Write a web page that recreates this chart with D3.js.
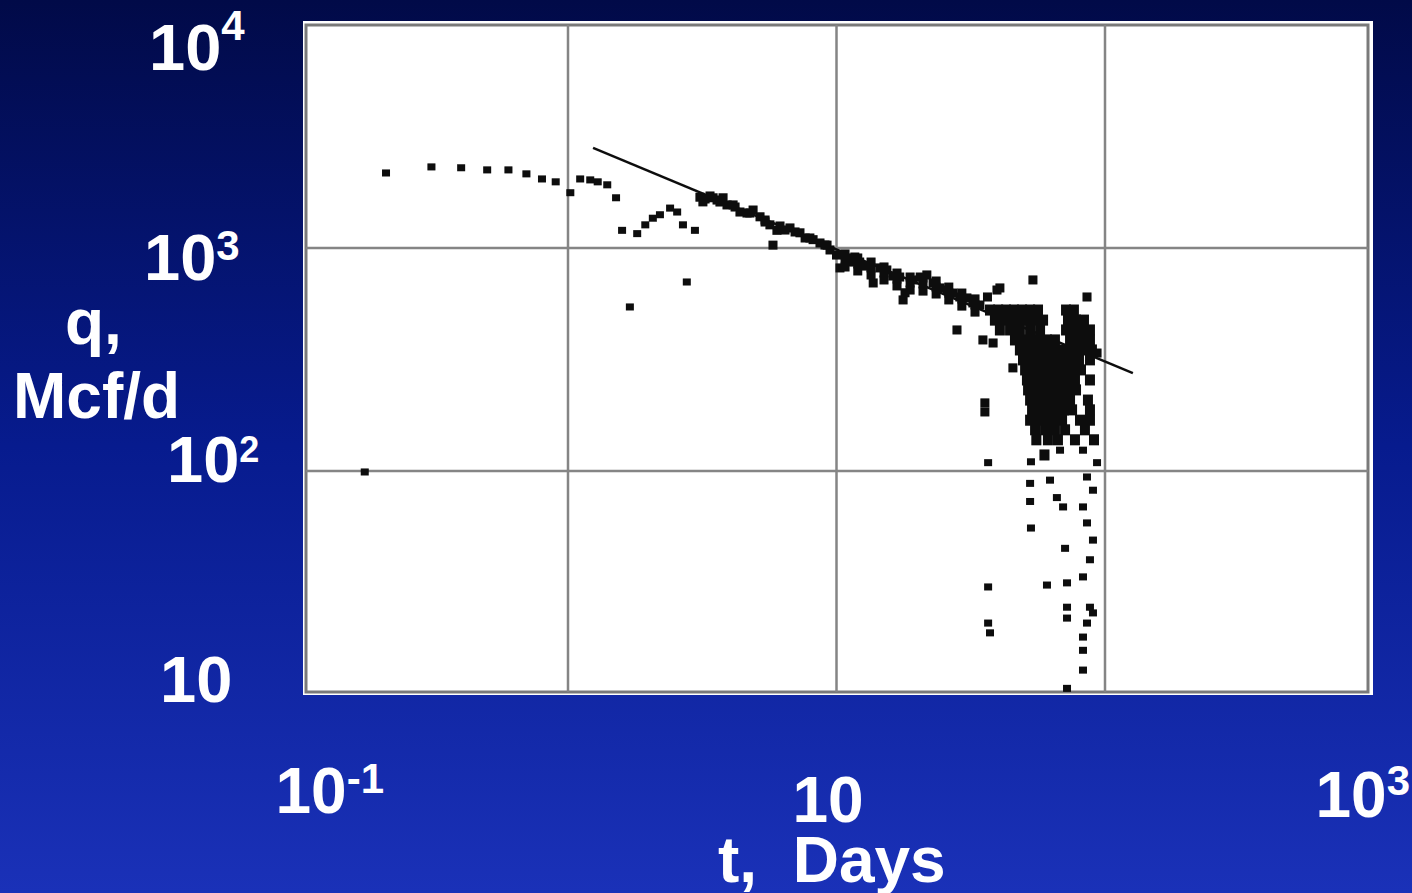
<!DOCTYPE html>
<html>
<head>
<meta charset="utf-8">
<script src="https://cdn.jsdelivr.net/npm/d3@7.9.0/dist/d3.min.js"></script>
<style>
  html, body { margin: 0; padding: 0; overflow: hidden; }
  svg { display: block; }
  text { font-family: "Liberation Sans", Arial, sans-serif; font-weight: bold; fill: #fff; white-space: pre; }
</style>
</head>
<body>
<svg width="1412" height="893"></svg>
<script>
// tick values and labels (log-log axes)
const xTicks = [0.1, 10, 1000];
const xTickLabels = [['10', '-1'], ['10', ''], ['10', '3']];
const yTicks = [1e4, 1e3, 1e2, 10];
const yTickLabels = [['10', '4'], ['10', '3'], ['10', '2'], ['10', '']];
const xGrid = [1, 10, 100];
const yGrid = [1000, 100];

// straight-line fit drawn over the data [t days, q Mcf/d]
const fitLine = [[1.24, 2810], [127, 275]];

// early-time points [t days, q Mcf/d]
const earlyPoints = [
  [0.21, 2170], [0.31, 2310], [0.40, 2290], [0.50, 2240], [0.60, 2240], [0.70, 2150],
  [0.80, 2040], [0.90, 1980], [1.02, 1770], [1.11, 2040], [1.21, 2020], [1.29, 1980],
  [1.40, 1920], [1.51, 1680], [1.59, 1200], [1.81, 1160], [1.94, 1270], [2.07, 1360],
  [2.20, 1410], [2.40, 1510], [2.55, 1450], [2.68, 1270], [2.97, 1200], [2.77, 704],
  [1.70, 544], [0.175, 99]
];

// main decline band [t days, q Mcf/d]
const bandPoints = [
  [3.10, 1690], [3.18, 1610], [3.24, 1659], [3.38, 1711], [3.47, 1680], [3.59, 1641],
  [3.68, 1608], [3.78, 1680], [3.91, 1560], [4.12, 1560], [4.19, 1527], [4.37, 1450],
  [4.64, 1435], [4.76, 1435], [4.89, 1480], [5.19, 1380], [5.42, 1308], [5.42, 1335],
  [5.65, 1270], [5.80, 1030], [6.0, 1200], [6.16, 1255], [6.43, 1204], [6.71, 1230],
  [7.01, 1180], [7.31, 1170], [7.64, 1109], [7.96, 1109], [8.18, 1090], [8.68, 1053],
  [9.06, 1031], [9.22, 1030], [9.46, 980], [10.0, 930], [10.3, 814], [10.9, 900],
  [10.76, 940], [10.76, 884], [10.76, 822], [11.2, 865], [11.7, 911],
  [12.0, 902], [12.0, 848], [12.0, 789], [12.2, 865], [12.9, 830],
  [13.45, 865], [13.45, 814], [13.45, 757], [13.7, 697], [14.5, 814],
  [15.03, 822], [15.03, 772], [15.03, 719], [15.4, 797], [16.2, 749],
  [16.8, 772], [16.8, 726], [16.8, 676], [17.2, 741], [17.7, 585], [18.0, 630],
  [18.8, 741], [18.8, 697], [18.8, 648], [19.3, 719], [20.5, 741],
  [21.0, 734], [21.0, 690], [21.0, 641], [21.7, 757], [22.9, 697],
  [23.5, 711], [23.5, 668], [23.5, 622], [24.3, 662], [25.8, 648],
  [26.2, 668], [26.2, 628], [26.2, 585], [27.2, 628], [28.1, 429], [28.8, 603],
  [29.3, 628], [29.3, 591], [29.3, 549], [30.6, 597], [32.2, 567],
  [32.8, 591], [32.8, 555], [32.8, 516], [34.2, 555], [36.5, 603], [35.1, 387],
  [38.3, 375], [39.6, 648], [40.6, 662], [53.9, 719], [85.7, 603], [35.7, 202],
  [35.7, 184], [45.4, 290], [93.4, 338]
];

// dense late-time cluster, read row by row [t days, q Mcf/d]
const clusterPoints = [
  [37.3, 527], [40.0, 527], [42.8, 527], [45.8, 527], [49.1, 527], [52.6, 527], [56.3, 527], [71.6, 527], [76.6, 527],
  [38.9, 475], [41.7, 475], [44.7, 475], [47.8, 475], [51.2, 475], [54.9, 475], [58.8, 475], [72.8, 475], [78.0, 475], [83.5, 475],
  [40.6, 429], [44.3, 429], [48.2, 429], [52.6, 429], [57.3, 429], [71.6, 429], [76.6, 429], [82.1, 429], [87.9, 429],
  [46.2, 387], [49.5, 387], [53.0, 387], [56.8, 387], [60.8, 387], [65.1, 387], [74.1, 387], [80.7, 387], [87.9, 387],
  [48.2, 349], [51.7, 349], [55.3, 349], [59.3, 349], [63.5, 349], [68.0, 349], [72.8, 349], [78.0, 349], [83.5, 349], [89.4, 349],
  [49.5, 315], [53.0, 315], [56.8, 315], [60.8, 315], [65.1, 315], [69.8, 315], [74.7, 315], [80.0, 315], [87.9, 315],
  [50.4, 284], [53.9, 284], [57.8, 284], [61.9, 284], [66.2, 284], [71.0, 284], [76.0, 284], [81.4, 284],
  [51.2, 256], [54.9, 256], [58.8, 256], [62.9, 256], [67.4, 256], [72.2, 256], [77.3, 256], [87.9, 256],
  [51.7, 231], [55.3, 231], [59.3, 231], [63.5, 231], [68.0, 231], [72.8, 231], [78.0, 231],
  [52.6, 208], [56.3, 208], [60.3, 208], [64.6, 208], [69.2, 208], [74.1, 208], [86.4, 208],
  [53.5, 188], [57.3, 188], [61.3, 188], [65.7, 188], [70.4, 188], [75.4, 188], [87.9, 188],
  [52.6, 169], [56.3, 169], [60.3, 169], [64.6, 169], [69.2, 169], [80.7, 169], [87.9, 169],
  [54.9, 153], [59.8, 153], [65.1, 153], [71.0, 153], [84.2, 153],
  [61.3, 138], [66.8, 138], [77.3, 138], [91.0, 138], [55.5, 138], [59.5, 118]
];

// scattered low-rate points [t days, q Mcf/d]
const lowPoints = [
  [36.7, 109], [53.0, 110], [52.6, 88], [52.6, 73], [53.0, 55.5], [62.4, 91],
  [66.2, 76], [69.8, 69], [68.0, 124], [82.8, 124], [93.4, 109], [85.7, 94],
  [90.2, 82], [82.8, 69], [85.7, 58.5], [90.2, 49], [71.0, 45], [87.9, 40],
  [82.8, 33.5], [72.2, 31.5], [60.8, 30.8], [36.7, 30.2], [72.2, 24.5], [72.2, 21.9],
  [87.9, 24.5], [90.2, 23.1], [85.7, 20.8], [36.7, 20.8], [37.3, 18.8], [82.8, 18.0],
  [82.8, 15.7], [82.8, 12.8], [72.2, 10.6]
];

const svg = d3.select('svg');
const defs = svg.append('defs');

// slide background
const grad = defs.append('linearGradient')
  .attr('id', 'bg').attr('x1', 0).attr('y1', 0).attr('x2', 0).attr('y2', 1);
grad.append('stop').attr('offset', '0%').attr('stop-color', '#010a48');
grad.append('stop').attr('offset', '50%').attr('stop-color', '#071b8e');
grad.append('stop').attr('offset', '100%').attr('stop-color', '#1a31b8');
svg.append('rect').attr('width', 1412).attr('height', 893).attr('fill', 'url(#bg)');

// a little softening, the original is a scanned plot
defs.append('filter').attr('id', 'soft')
  .append('feGaussianBlur').attr('stdDeviation', 0.7);

const x = d3.scaleLog().domain([0.1, 1000]).range([299.5, 1373.5]);
const y = d3.scaleLog().domain([10, 1e4]).range([694, 25]);

// white plot panel and frame
svg.append('rect')
  .attr('x', 303).attr('y', 21).attr('width', 1070).attr('height', 674)
  .attr('fill', '#fff');

const plot = svg.append('g').attr('filter', 'url(#soft)');
plot.append('rect')
  .attr('x', 306).attr('y', 25).attr('width', 1062).attr('height', 667)
  .attr('fill', 'none').attr('stroke', '#7a7a7a').attr('stroke-width', 3);

// grid
plot.selectAll('.vgrid').data(xGrid).join('line')
  .attr('x1', d => x(d)).attr('x2', d => x(d))
  .attr('y1', 25).attr('y2', 692)
  .attr('stroke', '#858585').attr('stroke-width', 2.5);
plot.selectAll('.hgrid').data(yGrid).join('line')
  .attr('x1', 306).attr('x2', 1368)
  .attr('y1', d => y(d)).attr('y2', d => y(d))
  .attr('stroke', '#858585').attr('stroke-width', 2.5);

// fit line
plot.append('path')
  .attr('d', d3.line().x(d => x(d[0])).y(d => y(d[1]))(fitLine))
  .attr('stroke', '#111').attr('stroke-width', 2.5).attr('fill', 'none');

// data points: scattered ones as small squares, the cluster a bit larger so it reads as a solid mass
function drawPoints(data, w, h) {
  plot.append('g').selectAll('rect').data(data).join('rect')
    .attr('x', d => x(d[0]) - w / 2).attr('y', d => y(d[1]) - h / 2)
    .attr('width', w).attr('height', h)
    .attr('fill', '#0a0a0a');
}
drawPoints(earlyPoints, 8, 7);
drawPoints(bandPoints, 9, 9);
drawPoints(clusterPoints, 10, 11);
drawPoints(lowPoints, 8, 7);

// tick labels (slide text, placed by hand around each decade)
const yLabelPos = [
  { x: 149, dy: 45, supDy: -30, supSize: 42 },
  { x: 144, dy: 32, supDy: -20, supSize: 42 },
  { x: 167, dy: 11, supDy: -20, supSize: 36 },
  { x: 160, dy: 8, supDy: 0, supSize: 42 }
];
yTicks.forEach((v, i) => {
  const p = yLabelPos[i];
  const t = svg.append('text').attr('x', p.x).attr('y', y(v) + p.dy).attr('font-size', 65);
  t.append('tspan').text(yTickLabels[i][0]);
  if (yTickLabels[i][1]) {
    t.append('tspan').attr('dy', p.supDy).attr('font-size', p.supSize).text(yTickLabels[i][1]);
  }
});

const xLabelPos = [
  { dx: -24, y: 813, supDy: -20, supSize: 42 },
  { dx: -44, y: 822, supDy: 0, supSize: 42 },
  { dx: -58, y: 817, supDy: -22, supSize: 42 }
];
xTicks.forEach((v, i) => {
  const p = xLabelPos[i];
  const t = svg.append('text').attr('x', x(v) + p.dx).attr('y', p.y).attr('font-size', 64);
  t.append('tspan').text(xTickLabels[i][0]);
  if (xTickLabels[i][1]) {
    t.append('tspan').attr('dy', p.supDy).attr('font-size', p.supSize).text(xTickLabels[i][1]);
  }
});

// axis titles
svg.append('text').attr('x', 65).attr('y', 344).attr('font-size', 64).text('q,');
svg.append('text').attr('x', 13).attr('y', 418).attr('font-size', 64).text('Mcf/d');
svg.append('text').attr('x', 718).attr('y', 882).attr('font-size', 64).text('t,  Days');
</script>
</body>
</html>
